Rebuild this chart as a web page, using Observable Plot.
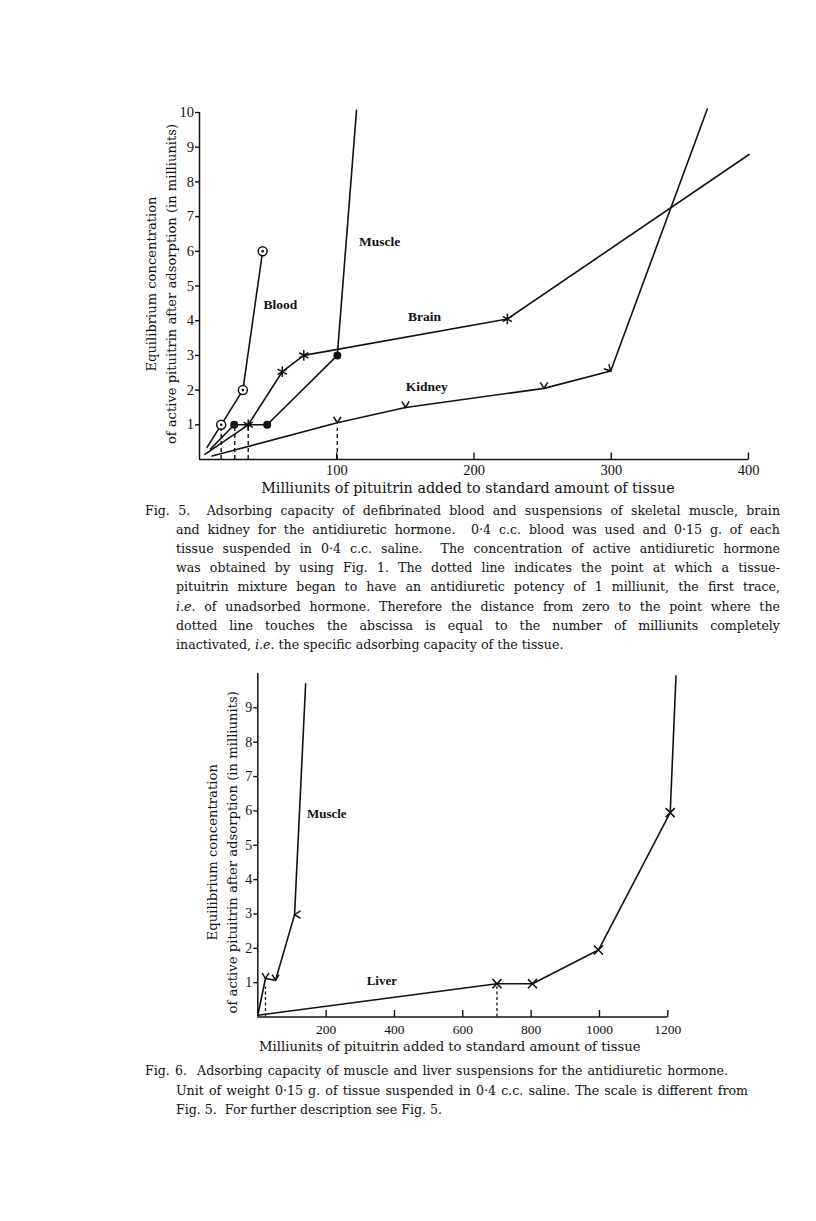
<!DOCTYPE html>
<html><head><meta charset="utf-8">
<script src="https://cdn.jsdelivr.net/npm/d3@7"></script>
<script src="https://cdn.jsdelivr.net/npm/@observablehq/plot@0.6"></script>
<style>
body{margin:0;background:#fff;}
#page{position:relative;width:816px;height:1221px;background:#fff;color:#111;overflow:hidden;}
.fig{position:absolute;left:0;}
.cap{position:absolute;font-family:"DejaVu Serif",serif;font-size:12.6px;line-height:19px;color:#111;white-space:nowrap;}
.j{text-align:justify;text-align-last:justify;white-space:normal;}
</style></head><body><div id="page"></div>
<script>
// ---------- Fig. 5 data ----------
const f5XTicks = [100, 200, 300, 400];
const f5YTicks = [1, 2, 3, 4, 5, 6, 7, 8, 9, 10];
const bloodX = [5.5, 15.8, 31.6, 46];
const bloodY = [0.35, 1, 2, 6];
const muscle5X = [8, 25.3, 49.3, 100.4, 114.4];
const muscle5Y = [0.3, 1, 1, 3, 10.06];
const brainX = [3.9, 35.5, 60.3, 76, 224.3, 400.4];
const brainY = [0.15, 1, 2.53, 3, 4.05, 8.79];
const kidneyX = [9.2, 100.4, 150.1, 251, 299.6, 370];
const kidneyY = [0.1, 1.06, 1.5, 2.05, 2.55, 10.1];
const f5DashX = [15.8, 25.7, 35.5, 100.4];
const f5DashTop = [0.88, 0.88, 0.93, 0.9];
const f5Labels = ["Muscle", "Blood", "Brain", "Kidney"];
const f5LabelX = [131.2, 59, 164, 165.5];
const f5LabelY = [6.28, 4.46, 4.11, 2.09];

// ---------- Fig. 6 data ----------
const f6XTicks = [200, 400, 600, 800, 1000, 1200];
const f6YTicks = [1, 2, 3, 4, 5, 6, 7, 8, 9];
const muscle6X = [0, 22.5, 52, 107.6, 140];
const muscle6Y = [0.05, 1.12, 1.07, 2.98, 9.7];
const liverX = [0, 700, 804, 997, 1207, 1224];
const liverY = [0.05, 0.97, 0.97, 1.95, 5.95, 9.93];
const f6DashX = [22.5, 700];
const f6DashTop = [0.87, 0.88];
const f6Labels = ["Muscle", "Liver"];
const f6LabelX = [201.8, 363];
const f6LabelY = [5.92, 1.06];

const xTitle = "Milliunits of pituitrin added to standard amount of tissue";
const yTitle1 = "Equilibrium concentration";
const yTitle2 = "of active pituitrin after adsorption (in milliunits)";

const cap5 = [
  "Fig. 5.&nbsp; Adsorbing capacity of defibrinated blood and suspensions of skeletal muscle, brain",
  "and kidney for the antidiuretic hormone.&nbsp; 0·4 c.c. blood was used and 0·15 g. of each",
  "tissue suspended in 0·4 c.c. saline.&nbsp; The concentration of active antidiuretic hormone",
  "was obtained by using Fig. 1. The dotted line indicates the point at which a tissue-",
  "pituitrin mixture began to have an antidiuretic potency of 1 milliunit, the first trace,",
  "<i>i.e.</i> of unadsorbed hormone. Therefore the distance from zero to the point where the",
  "dotted line touches the abscissa is equal to the number of milliunits completely",
  "inactivated, <i>i.e.</i> the specific adsorbing capacity of the tissue."
];
const cap6 = [
  "Fig. 6.&nbsp; Adsorbing capacity of muscle and liver suspensions for the antidiuretic hormone.",
  "Unit of weight 0·15 g. of tissue suspended in 0·4 c.c. saline. The scale is different from",
  "Fig. 5.&nbsp; For further description see Fig. 5."
];

// ---------- helpers ----------
const ink = "#111";
const rows = (xs, ys) => xs.map((x, i) => ({x, y: ys[i]}));
const R = s => Math.sqrt(s / Math.PI);
const chevDown = {draw(c, s) { const r = R(s); c.moveTo(-0.8 * r, -1.3 * r); c.lineTo(0, 0); c.lineTo(0.8 * r, -1.3 * r); }};
const chevLeft = {draw(c, s) { const r = R(s); c.moveTo(1.3 * r, -0.8 * r); c.lineTo(0, 0); c.lineTo(1.3 * r, 0.8 * r); }};
const chevDR = {draw(c, s) { const r = R(s); c.moveTo(-1.5 * r, -0.5 * r); c.lineTo(0, 0); c.lineTo(-0.4 * r, -1.5 * r); }};
const tickUp = {draw(c, s) { c.moveTo(0, 0); c.lineTo(0, -7); }};
const fmt = d => `${d}`;

const page = document.getElementById("page");
function place(svg, top) {
  svg.classList.add("fig");
  svg.style.top = top + "px";
  page.appendChild(svg);
}
const labFont = {fontFamily: "Liberation Serif", fontWeight: "bold", fontSize: 13.5, fill: ink};
const titleFont = {fontFamily: "DejaVu Serif", fill: ink, textAnchor: "middle", lineAnchor: "middle"};
const line = (d) => Plot.line(d, {x: "x", y: "y", stroke: ink, strokeWidth: 1.6, clip: false});

// ---------- Fig. 5 ----------
const blood = rows(bloodX, bloodY), muscle5 = rows(muscle5X, muscle5Y), brain = rows(brainX, brainY), kidney = rows(kidneyX, kidneyY);
const fig5 = Plot.plot({
  width: 816, height: 409,
  marginLeft: 199, marginRight: 68, marginTop: 22, marginBottom: 40,
  style: {fontFamily: "Liberation Serif", fontSize: "14px", color: ink, background: "transparent", overflow: "visible"},
  x: {domain: [0, 400]},
  y: {domain: [0, 10]},
  marks: [
    Plot.ruleX([0], {stroke: ink, strokeWidth: 1.5}),
    Plot.ruleY([0], {stroke: ink, strokeWidth: 1.5}),
    Plot.axisY({ticks: f5YTicks, tickSize: 4, tickPadding: 1.5, label: null, tickFormat: fmt, stroke: ink, strokeWidth: 1.4, fontSize: 14.5, fontFamily: "Liberation Serif", fill: ink}),
    Plot.axisX({ticks: f5XTicks, tickSize: 0, tickPadding: 5, label: null, tickFormat: fmt, fontSize: 14.5, fontFamily: "Liberation Serif", fill: ink}),
    Plot.dot(f5XTicks, {x: d => d, y: 0, symbol: tickUp, stroke: ink, strokeWidth: 1.4}),
    Plot.ruleX(f5DashX.map((x, i) => ({x, t: f5DashTop[i]})), {x: "x", y1: 0, y2: "t", stroke: ink, strokeWidth: 1.4, strokeDasharray: "4,3"}),
    line(blood), line(muscle5), line(brain), line(kidney),
    Plot.dot(blood.slice(1), {x: "x", y: "y", r: 4.5, stroke: ink, fill: "white", strokeWidth: 1.5}),
    Plot.dot(blood.slice(1), {x: "x", y: "y", r: 1.3, fill: ink}),
    Plot.dot(muscle5.slice(1, 4), {x: "x", y: "y", r: 4, fill: ink}),
    Plot.dot(brain.slice(1, 5), {x: "x", y: "y", r: 5, symbol: "asterisk", stroke: ink, strokeWidth: 1.5}),
    Plot.dot(kidney.slice(1, 4), {x: "x", y: "y", r: 4.6, symbol: chevDown, stroke: ink, fill: "none", strokeWidth: 1.5}),
    Plot.dot(kidney.slice(4, 5), {x: "x", y: "y", r: 4.6, symbol: chevDR, stroke: ink, fill: "none", strokeWidth: 1.5}),
    Plot.text(f5Labels.map((t, i) => ({t, x: f5LabelX[i], y: f5LabelY[i]})), {x: "x", y: "y", text: "t", ...labFont}),
    Plot.text([xTitle], {text: d => d, frameAnchor: "bottom", dx: -6, dy: 28.5, fontSize: 14.3, ...titleFont}),
    Plot.text([yTitle1], {text: d => d, frameAnchor: "left", rotate: -90, dx: -48, dy: -2, fontSize: 13.1, ...titleFont}),
    Plot.text([yTitle2], {text: d => d, frameAnchor: "left", rotate: -90, dx: -28, dy: -2, fontSize: 13.1, ...titleFont})
  ]
});
place(fig5, 90);

// ---------- Fig. 6 ----------
const muscle6 = rows(muscle6X, muscle6Y), liver = rows(liverX, liverY);
const fig6 = Plot.plot({
  width: 816, height: 397,
  marginLeft: 257.3, marginRight: 148.7, marginTop: 23, marginBottom: 30.5,
  style: {fontFamily: "Liberation Serif", fontSize: "13px", color: ink, background: "transparent", overflow: "visible"},
  x: {domain: [0, 1200]},
  y: {domain: [0, 10]},
  marks: [
    Plot.ruleX([0], {stroke: ink, strokeWidth: 1.5}),
    Plot.ruleY([0], {stroke: ink, strokeWidth: 1.5}),
    Plot.axisY({ticks: f6YTicks, tickSize: 4, tickPadding: 1.5, label: null, tickFormat: fmt, stroke: ink, strokeWidth: 1.4, fontSize: 14, fontFamily: "Liberation Serif", fill: ink}),
    Plot.axisX({ticks: f6XTicks, tickSize: 0, tickPadding: 7, label: null, tickFormat: fmt, fontSize: 13.5, fontFamily: "Liberation Serif", fill: ink}),
    Plot.dot(f6XTicks, {x: d => d, y: 0, symbol: tickUp, stroke: ink, strokeWidth: 1.4}),
    Plot.ruleX(f6DashX.map((x, i) => ({x, t: f6DashTop[i]})), {x: "x", y1: 0, y2: "t", stroke: ink, strokeWidth: 1.3, strokeDasharray: "3,2.5"}),
    line(muscle6), line(liver),
    Plot.dot(muscle6.slice(1, 3), {x: "x", y: "y", r: 4.3, symbol: chevDown, stroke: ink, fill: "none", strokeWidth: 1.5}),
    Plot.dot(muscle6.slice(3, 4), {x: "x", y: "y", r: 4.6, symbol: chevLeft, stroke: ink, fill: "none", strokeWidth: 1.5}),
    Plot.dot(liver.slice(1, 5), {x: "x", y: "y", r: 4.2, symbol: "times", stroke: ink, strokeWidth: 1.6}),
    Plot.text(f6Labels.map((t, i) => ({t, x: f6LabelX[i], y: f6LabelY[i]})), {x: "x", y: "y", text: "t", ...labFont, fontSize: 13}),
    Plot.text([xTitle], {text: d => d, frameAnchor: "bottom", dx: -13, dy: 29.5, fontSize: 13.2, ...titleFont}),
    Plot.text([yTitle1], {text: d => d, frameAnchor: "left", rotate: -90, dx: -45, dy: 7, fontSize: 13.2, ...titleFont}),
    Plot.text([yTitle2], {text: d => d, frameAnchor: "left", rotate: -90, dx: -25, dy: 7, fontSize: 13.2, ...titleFont})
  ]
});
place(fig6, 650);

// ---------- captions ----------
function caption(lines, firstCenter, step, widths) {
  lines.forEach((html, i) => {
    const d = document.createElement("div");
    d.className = "cap";
    d.innerHTML = html;
    d.style.top = (firstCenter + i * step - 10) + "px";
    d.style.left = (i === 0 ? 145 : 176) + "px";
    if (widths[i]) { d.classList.add("j"); d.style.width = widths[i] + "px"; }
    page.appendChild(d);
  });
}
caption(cap5, 511, 19.1, [635, 604, 604, 604, 604, 604, 604, 0]);
caption(cap6, 1071, 19.5, [583, 572, 0]);
</script>
</body></html>
